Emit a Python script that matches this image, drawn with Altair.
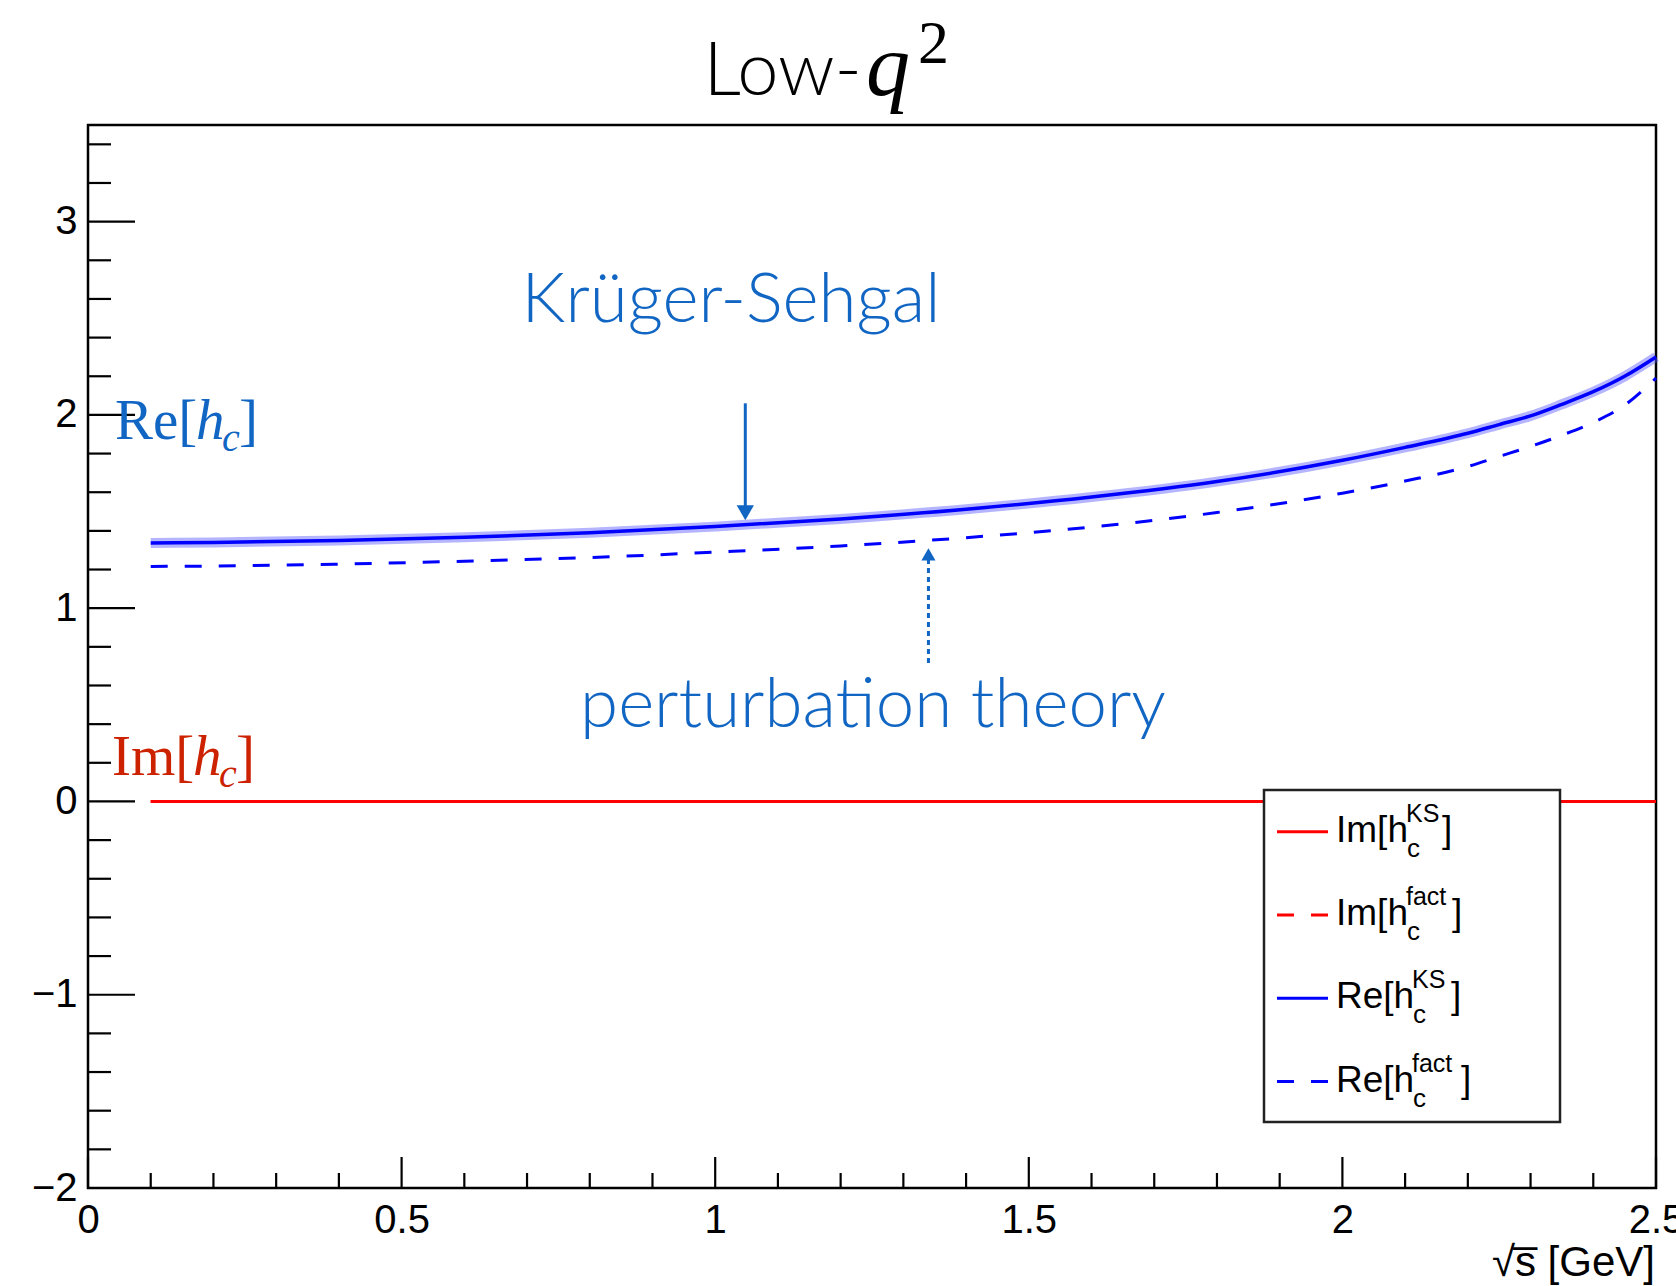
import altair as alt
import pandas as pd

# ---- curve values -------------------------------------------------------
x_pts = [0.1, 0.2, 0.4, 0.6, 0.8, 1.0, 1.2, 1.4, 1.6, 1.8, 2.0, 2.1, 2.2,
         2.25, 2.3, 2.35, 2.4, 2.45, 2.5]
re_ks = [1.337, 1.340, 1.350, 1.367, 1.390, 1.422, 1.462, 1.512, 1.575, 1.655,
         1.765, 1.832, 1.905, 1.950, 1.995, 2.055, 2.120, 2.200, 2.300]
re_fact = [1.216, 1.218, 1.228, 1.243, 1.262, 1.290, 1.322, 1.365, 1.420, 1.495,
           1.595, 1.658, 1.733, 1.785, 1.837, 1.895, 1.961, 2.050, 2.190]
im_x = [0.1, 2.5]
im_ks = [0.0, 0.0]
im_fact = [0.0, 0.0]

# ---- axis ticks ----------------------------------------------------------
x_major = [0, 0.5, 1, 1.5, 2, 2.5]
x_minor = [0.1, 0.2, 0.3, 0.4, 0.6, 0.7, 0.8, 0.9, 1.1, 1.2, 1.3, 1.4,
           1.6, 1.7, 1.8, 1.9, 2.1, 2.2, 2.3, 2.4]
y_major = [-2, -1, 0, 1, 2, 3]
y_minor = [-1.8, -1.6, -1.4, -1.2, -0.8, -0.6, -0.4, -0.2, 0.2, 0.4, 0.6, 0.8,
           1.2, 1.4, 1.6, 1.8, 2.2, 2.4, 2.6, 2.8, 3.2, 3.4]

# ---- legend entries ------------------------------------------------------
leg_main = ["Im[h", "Im[h", "Re[h", "Re[h"]
leg_sup = ["KS", "fact", "KS", "fact"]
leg_color = ["#ff0000", "#ff0000", "#0000ff", "#0000ff"]
leg_dashed = [False, True, False, True]

# ---- annotation anchors (axis units) ------------------------------------
ks_arrow = {"x": 1.048, "y_tail": 2.06, "y_tip": 1.455}
pt_arrow = {"x": 1.340, "y_tail": 0.716, "y_tip": 1.316}

W, H = 1568, 1063
SANS = "Liberation Sans, Arial, Helvetica, sans-serif"
SERIF = "Liberation Serif, Times New Roman, serif"
LIGHT = "Lato, Open Sans, sans-serif"
BLUE_TXT = "#1166c4"
RED_TXT = "#cc2200"

x_scale = alt.Scale(domain=[0, 2.5], nice=False, zero=False)
y_scale = alt.Scale(domain=[-2, 3.5], nice=False, zero=False)
x_axis = alt.Axis(values=x_major, ticks=False, domain=False, grid=False, title=None,
                  format="~g", labelFont=SANS, labelFontSize=40, labelColor="black",
                  labelPadding=12, labelOverlap=False, labelFlush=False)
y_axis = alt.Axis(values=y_major, ticks=False, domain=False, grid=False, title=None,
                  format="~g", labelFont=SANS, labelFontSize=40, labelColor="black",
                  labelPadding=11, labelOverlap=False, labelFlush=False)


def X(field):
    return alt.X(field, type="quantitative", scale=x_scale, axis=x_axis)


def Y(field):
    return alt.Y(field, type="quantitative", scale=y_scale, axis=y_axis)


one = pd.DataFrame({"k": [0]})
curves = pd.DataFrame({"x": x_pts, "ks": re_ks, "fact": re_fact})
imag = pd.DataFrame({"x": im_x, "ks": im_ks, "fact": im_fact})

layers = []

# Krüger-Sehgal band and central curve
layers.append(alt.Chart(curves).mark_line(color="#5a5aff", opacity=0.45, strokeWidth=10,
                                          interpolate="monotone")
              .encode(x=X("x"), y=Y("ks")))
layers.append(alt.Chart(curves).mark_line(color="#0000ff", strokeWidth=3.5,
                                          interpolate="monotone")
              .encode(x=X("x"), y=Y("ks")))
# factorisation (perturbative) curve
layers.append(alt.Chart(curves).mark_line(color="#0000ff", strokeWidth=3, strokeDash=[17, 17],
                                          interpolate="monotone")
              .encode(x=X("x"), y=Y("fact")))
# imaginary parts
layers.append(alt.Chart(imag).mark_line(color="#ff0000", strokeWidth=3)
              .encode(x=X("x"), y=Y("ks")))
layers.append(alt.Chart(imag).mark_line(color="#ff0000", strokeWidth=3, strokeDash=[17, 17])
              .encode(x=X("x"), y=Y("fact")))

# inward tick marks
layers.append(alt.Chart(pd.DataFrame({"v": y_major})).mark_rule(color="black", strokeWidth=2.2)
              .encode(y=Y("v"), x=alt.value(0), x2=alt.value(47)))
layers.append(alt.Chart(pd.DataFrame({"v": y_minor})).mark_rule(color="black", strokeWidth=2.2)
              .encode(y=Y("v"), x=alt.value(0), x2=alt.value(23)))
layers.append(alt.Chart(pd.DataFrame({"v": x_major})).mark_rule(color="black", strokeWidth=2.2)
              .encode(x=X("v"), y=alt.value(H), y2=alt.value(H - 31)))
layers.append(alt.Chart(pd.DataFrame({"v": x_minor})).mark_rule(color="black", strokeWidth=2.2)
              .encode(x=X("v"), y=alt.value(H), y2=alt.value(H - 15)))

# legend box
LX0, LX1, LY0, LY1 = 1176, 1472, 665, 997
layers.append(alt.Chart(one).mark_rect(fill="white", stroke="#222222", strokeWidth=2.5)
              .encode(x=alt.value(LX0), x2=alt.value(LX1), y=alt.value(LY0), y2=alt.value(LY1)))
row_pitch = 83.3
bracket_x = [1354, 1364, 1363, 1373]
for i in range(len(leg_main)):
    ly = 706.7 + i * row_pitch
    base = ly + 10
    kw = {"strokeDash": [17, 17]} if leg_dashed[i] else {}
    layers.append(alt.Chart(one).mark_rule(color=leg_color[i], strokeWidth=3, **kw)
                  .encode(x=alt.value(1189), x2=alt.value(1240), y=alt.value(ly)))
    main_w = 70 if leg_main[i].startswith("Im") else 76
    sx = 1248 + main_w
    layers.append(alt.Chart(one).mark_text(text=leg_main[i], font=SANS, fontSize=37,
                                           align="left", baseline="alphabetic", color="black")
                  .encode(x=alt.value(1248), y=alt.value(base)))
    layers.append(alt.Chart(one).mark_text(text=leg_sup[i], font=SANS, fontSize=25,
                                           align="left", baseline="alphabetic", color="black")
                  .encode(x=alt.value(sx), y=alt.value(base - 20)))
    layers.append(alt.Chart(one).mark_text(text="c", font=SANS, fontSize=26,
                                           align="left", baseline="alphabetic", color="black")
                  .encode(x=alt.value(sx + 1), y=alt.value(base + 15)))
    layers.append(alt.Chart(one).mark_text(text="]", font=SANS, fontSize=37,
                                           align="left", baseline="alphabetic", color="black")
                  .encode(x=alt.value(bracket_x[i]), y=alt.value(base)))

# annotation arrows
ks_df = pd.DataFrame({"x": [ks_arrow["x"]], "y0": [ks_arrow["y_tail"]],
                      "y1": [ks_arrow["y_tip"] + 0.07]})
layers.append(alt.Chart(ks_df).mark_rule(color=BLUE_TXT, strokeWidth=3)
              .encode(x=X("x"), y=Y("y0"), y2=alt.Y2("y1")))
ks_head = pd.DataFrame({"x": [ks_arrow["x"]], "y": [ks_arrow["y_tip"] + 0.039]})
layers.append(alt.Chart(ks_head).mark_point(shape="triangle-down", filled=True, size=300,
                                             color=BLUE_TXT, opacity=1)
              .encode(x=X("x"), y=Y("y")))
pt_df = pd.DataFrame({"x": [pt_arrow["x"]], "y0": [pt_arrow["y_tail"]],
                      "y1": [pt_arrow["y_tip"] - 0.06]})
layers.append(alt.Chart(pt_df).mark_rule(color=BLUE_TXT, strokeWidth=3, strokeDash=[5, 4])
              .encode(x=X("x"), y=Y("y0"), y2=alt.Y2("y1")))
pt_head = pd.DataFrame({"x": [pt_arrow["x"]], "y": [pt_arrow["y_tip"] - 0.037]})
layers.append(alt.Chart(pt_head).mark_point(shape="triangle-up", filled=True, size=200,
                                             color=BLUE_TXT, opacity=1)
              .encode(x=X("x"), y=Y("y")))

# annotation texts
layers.append(alt.Chart(one).mark_text(text="Krüger-Sehgal", font=LIGHT, fontWeight=300,
                                       fontSize=69, align="center", baseline="alphabetic",
                                       color=BLUE_TXT)
              .encode(x=alt.value(643), y=alt.value(197)))
layers.append(alt.Chart(one).mark_text(text="perturbation theory", font=LIGHT, fontWeight=300,
                                       fontSize=69, align="center", baseline="alphabetic",
                                       color=BLUE_TXT)
              .encode(x=alt.value(785), y=alt.value(602)))


def math_label(txt, x0, base, color):
    out = []
    out.append(alt.Chart(one).mark_text(text=txt + "[", font=SERIF, fontSize=57, align="left",
                                        baseline="alphabetic", color=color)
               .encode(x=alt.value(x0), y=alt.value(base)))
    out.append(alt.Chart(one).mark_text(text="h", font=SERIF, fontStyle="italic", fontSize=57,
                                        align="left", baseline="alphabetic", color=color)
               .encode(x=alt.value(x0 + 81), y=alt.value(base)))
    out.append(alt.Chart(one).mark_text(text="c", font=SERIF, fontStyle="italic", fontSize=40,
                                        align="left", baseline="alphabetic", color=color)
               .encode(x=alt.value(x0 + 107), y=alt.value(base + 12)))
    out.append(alt.Chart(one).mark_text(text="]", font=SERIF, fontSize=57, align="left",
                                        baseline="alphabetic", color=color)
               .encode(x=alt.value(x0 + 124), y=alt.value(base)))
    return out


layers += math_label("Re", 27, 314, BLUE_TXT)
layers += math_label("Im", 24, 650, RED_TXT)

# x-axis title
layers.append(alt.Chart(one).mark_text(text="√s\u0305 [GeV]", font=SANS, fontSize=42,
                                       align="right", baseline="alphabetic", color="black")
              .encode(x=alt.value(W - 1), y=alt.value(1151)))

# chart title: Low-q^2
layers.append(alt.Chart(one).mark_text(text="Low-", font=LIGHT, fontWeight=300, fontSize=74,
                                       align="right", baseline="alphabetic", color="black")
              .encode(x=alt.value(774), y=alt.value(-30)))
layers.append(alt.Chart(one).mark_text(text="q", font=SERIF, fontStyle="italic", fontSize=88,
                                       align="left", baseline="alphabetic", color="black")
              .encode(x=alt.value(778), y=alt.value(-30)))
layers.append(alt.Chart(one).mark_text(text="2", font=SERIF, fontSize=62,
                                       align="left", baseline="alphabetic", color="black")
              .encode(x=alt.value(830), y=alt.value(-62)))

chart = (
    alt.layer(*layers)
    .properties(width=W, height=H, background="white",
                autosize=alt.AutoSizeParams(type="none"),
                padding={"left": 88, "top": 125, "right": 20, "bottom": 98})
    .configure_view(stroke="black", strokeWidth=2.5)
)

chart.save("out.html", embed_options={"renderer": "svg", "actions": False})
